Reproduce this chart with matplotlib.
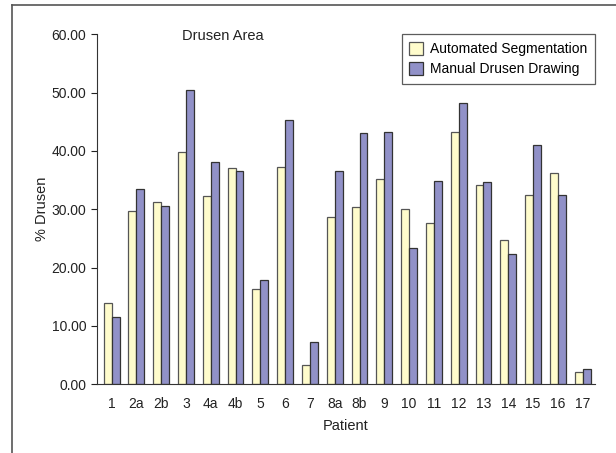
import matplotlib
matplotlib.use('Agg')
from matplotlib import pyplot as plt
from matplotlib.lines import Line2D
import numpy as np

plt.rcParams['font.family'] = ['Liberation Sans', 'DejaVu Sans']

patients = ['1', '2a', '2b', '3', '4a', '4b', '5', '6', '7', '8a', '8b', '9',
            '10', '11', '12', '13', '14', '15', '16', '17']
automated = [14.0, 29.7, 31.2, 39.8, 32.2, 37.0, 16.4, 37.3, 3.2, 28.7, 30.4, 35.2,
             30.0, 27.7, 43.2, 34.1, 24.8, 32.4, 36.2, 2.0]
manual = [11.6, 33.5, 30.5, 50.4, 38.1, 36.6, 17.9, 45.3, 7.3, 36.6, 43.1, 43.2,
          23.4, 34.8, 48.2, 34.6, 22.4, 41.1, 32.4, 2.6]

fig = plt.figure(figsize=(6.16, 4.53), dpi=100)
ax = fig.add_axes([0.157, 0.152, 0.809, 0.772])

x = np.arange(len(patients))
w = 0.32
ax.bar(x - w/2, automated, w, color='#FFFCCC', edgecolor='#555555', linewidth=0.9,
       label='Automated Segmentation')
ax.bar(x + w/2, manual, w, color='#9191C8', edgecolor='#333333', linewidth=0.9,
       label='Manual Drusen Drawing')

ax.set_xlim(-0.6, 19.5)
ax.set_ylim(0, 60)
ax.set_yticks(np.arange(0, 61, 10))
ax.set_yticklabels(['%.2f' % v for v in np.arange(0, 61, 10)])
ax.set_xticks(x)
ax.set_xticklabels(patients)
ax.tick_params(axis='x', length=0, pad=9, labelsize=10, colors='#222222')
ax.tick_params(axis='y', length=4, labelsize=10, colors='#222222')
for s in ['top', 'right']:
    ax.spines[s].set_visible(False)
for s in ['left', 'bottom']:
    ax.spines[s].set_color('#333333')

ax.set_xlabel('Patient', fontsize=10.5, color='#222222', labelpad=6)
ax.set_ylabel('% Drusen', fontsize=10.5, color='#222222', labelpad=2)
ax.text(0.253, 0.995, 'Drusen Area', transform=ax.transAxes, fontsize=10.5,
        color='#222222', ha='center', va='center')

leg = ax.legend(loc='upper right', bbox_to_anchor=(1.0, 1.0), fontsize=10,
                fancybox=False, frameon=True, edgecolor='#333333',
                handlelength=1.0, handleheight=1.0, handletextpad=0.5,
                borderpad=0.55, labelspacing=0.45, borderaxespad=0.0)
leg.get_frame().set_linewidth(0.9)

fig.add_artist(Line2D([0.019, 0.019], [0.0, 0.989], transform=fig.transFigure,
                      color='#555555', linewidth=1.2))
fig.add_artist(Line2D([0.019, 1.0], [0.989, 0.989], transform=fig.transFigure,
                      color='#555555', linewidth=1.2))

fig.savefig('out.png', dpi=100)
